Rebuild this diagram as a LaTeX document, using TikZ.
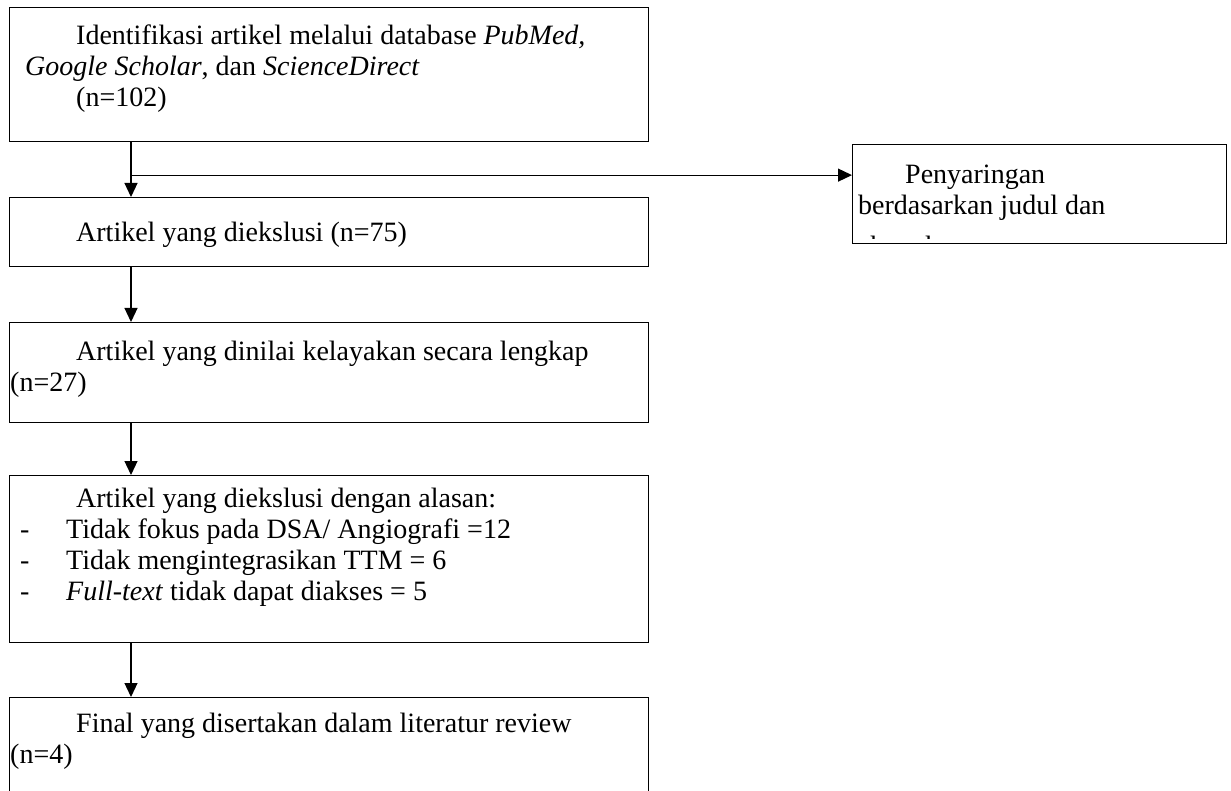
\documentclass[tikz,border=0pt]{standalone}
\usepackage{fontspec}
\setmainfont{Liberation Serif}
\usetikzlibrary{arrows.meta,calc}
\begin{document}
\begin{tikzpicture}[x=1pt,y=-1pt,
  box/.style={draw=black, line width=1.3pt, rectangle, inner sep=0pt, anchor=north west},
  txt/.style={anchor=base west, inner sep=0pt, font=\fontsize{28}{31}\selectfont},
  arr/.style={line width=1.2pt, -{Triangle[width=13pt,length=14pt]}}]
\useasboundingbox (0,0) rectangle (1231,791);
% boxes
\node[box, minimum width=639pt, minimum height=134pt] (b1) at (9,7) {};
\node[box, minimum width=639pt, minimum height=69pt] (b2) at (9,197) {};
\node[box, minimum width=374pt, minimum height=99pt] (r1) at (852,144) {};
\node[box, minimum width=639pt, minimum height=100pt] (b3) at (9,322) {};
\node[box, minimum width=639pt, minimum height=167pt] (b4) at (9,475) {};
\node[box, minimum width=639pt, minimum height=96pt] (b5) at (9,697) {};
% texts
\node[txt] (t1a) at (76,45) {Identifikasi artikel melalui database \textit{PubMed,}};
\node[txt] (t1b) at (25,76) {\textit{Google Scholar}, dan \textit{ScienceDirect}};
\node[txt] (t1c) at (76,107) {(n=102)};
\node[txt] (t2) at (76,242) {Artikel yang diekslusi (n=75)};
\node[txt] (tr1) at (905,184) {Penyaringan};
\node[txt] (tr2) at (858,215) {berdasarkan judul dan};
\begin{scope}
\clip (852,200) rectangle (1226,239);
\node[txt] (tr3) at (858,256) {abstrak};
\end{scope}
\node[txt] (t3a) at (76,360) {Artikel yang dinilai kelayakan secara lengkap};
\node[txt] (t3b) at (10,391) {(n=27)};
\node[txt] (t4a) at (76,507) {Artikel yang diekslusi dengan alasan:};
\node[txt] (d1) at (20,538) {-};
\node[txt] (t4b) at (66,538) {Tidak fokus pada DSA/ Angiografi =12};
\node[txt] (d2) at (20,569) {-};
\node[txt] (t4c) at (66,569) {Tidak mengintegrasikan TTM = 6};
\node[txt] (d3) at (20,600) {-};
\node[txt] (t4d) at (66,600) {\textit{Full-text} tidak dapat diakses = 5};
\node[txt] (t5a) at (76,732) {Final yang disertakan dalam literatur review};
\node[txt] (t5b) at (10,763) {(n=4)};
% connectors
\coordinate (s1) at ($(b1.south west)+(122,0)$);
\coordinate (e1) at ($(b2.north west)+(122,0)$);
\coordinate (j) at ($(s1)!0.6!(e1)$);
\draw[arr] (s1) -- (e1);
\draw[arr] (j) -- (j -| r1.west);
\draw[arr] ($(b2.south west)+(122,0)$) -- ($(b3.north west)+(122,0)$);
\draw[arr] ($(b3.south west)+(122,0)$) -- ($(b4.north west)+(122,0)$);
\draw[arr] ($(b4.south west)+(122,0)$) -- ($(b5.north west)+(122,0)$);
\end{tikzpicture}
\end{document}
